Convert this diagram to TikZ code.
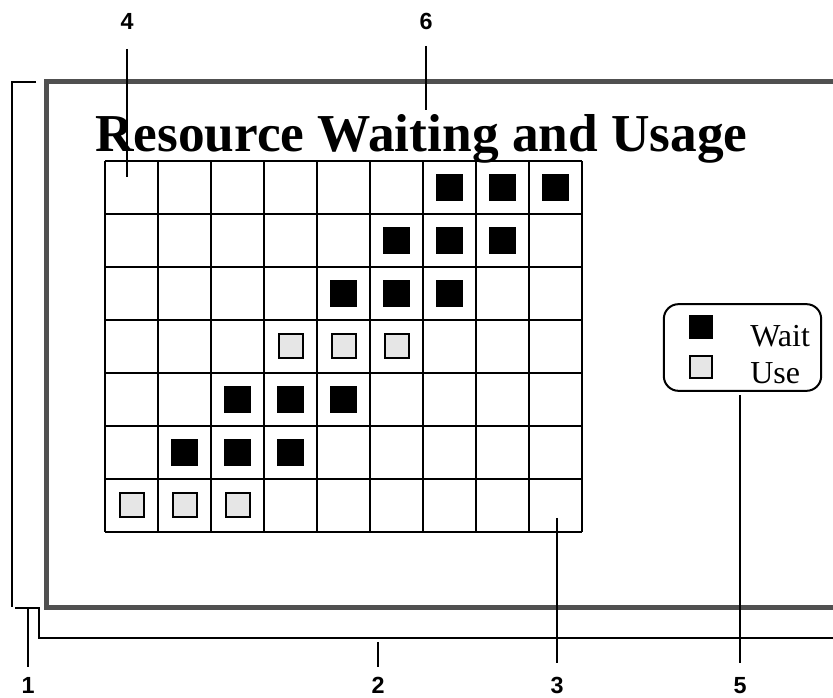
\documentclass[tikz,border=0pt]{standalone}
\usepackage{fontspec}
\setmainfont{Liberation Serif}
\setsansfont{Liberation Sans}
\usetikzlibrary{positioning}
\definecolor{frameGray}{RGB}{80,80,80}
\definecolor{useGray}{RGB}{230,230,230}

\begin{document}
\begin{tikzpicture}[
  x=0.75pt,y=-0.75pt,
  frame/.style={draw=frameGray,line width=3.75pt},
  bracket/.style={draw,line width=1.5pt},
  pointer/.style={draw,line width=1.5pt},
  gridline/.style={draw,line width=1.6pt},
  callout/.style={font=\sffamily\bfseries\fontsize{17.5}{17.5}\selectfont,anchor=base,inner sep=0pt},
  waitbox/.style={fill=black,minimum size=20.25pt,inner sep=0pt},
  usebox/.style={fill=useGray,draw,line width=1.5pt,minimum size=18pt,inner sep=0pt},
  legendbox/.style={draw,rounded corners=11pt,line width=1.5pt,minimum width=118pt,minimum height=65pt},
  legendtext/.style={font=\fontsize{24}{24}\selectfont,anchor=base west,inner sep=0pt}
]
  \useasboundingbox (0,0) rectangle (833,698);

  % outer frame and brackets
  \draw[frame] (833,82) -| (46,608) -- (833,608);
  \draw[bracket] (36,82) -- (12,82) -- (12,607);
  \draw[bracket] (15,608) -- (39,608) -- (39,638) -- (833,638);

  \node[anchor=base west,inner sep=0pt,font=\bfseries\fontsize{40}{40}\selectfont] (title)
    at (95,152) {Resource Waiting and Usage};

  % grid
  \foreach \c in {0,...,9}
    \draw[gridline] ({105+53*\c},161) -- ({105+53*\c},532);
  \foreach \r in {0,...,7}
    \draw[gridline] (105,{161+53*\r}) -- (582,{161+53*\r});

  \foreach \c/\r in {6/0,7/0,8/0,5/1,6/1,7/1,4/2,5/2,6/2,2/4,3/4,4/4,1/5,2/5,3/5}
    \node[waitbox] (w-\c-\r) at ({131.5+53*\c},{187.5+53*\r}) {};
  \foreach \c/\r in {3/3,4/3,5/3,0/6,1/6,2/6}
    \node[usebox] (u-\c-\r) at ({131.5+53*\c},{187.5+53*\r}) {};

  % legend
  \node[legendbox] (legend) at (742.5,347.5) {};
  \node[waitbox,minimum size=18pt] (keywait) at (701,327) {};
  \node[usebox,minimum size=16.5pt] (keyuse) at (701,367) {};
  \node[legendtext] (wait) at (750,347) {Wait};
  \node[legendtext] (use) at (750,384) {Use};

  % callouts
  \foreach \n/\x/\ya/\yb in {1/28/608/667,2/378/642/667,3/557/518/663,5/740/395/663}{
    \coordinate (top\n) at (\x,\ya);
    \coordinate (tip\n) at (\x,\yb);
    \draw[pointer] (top\n) -- (tip\n);
    \node[callout] (num\n) at (\x,694) {\n};
  }
  \foreach \n/\x/\ya/\yb in {4/127/49/177,6/426/46/110}{
    \coordinate (top\n) at (\x,\ya);
    \coordinate (tip\n) at (\x,\yb);
    \draw[pointer] (top\n) -- (tip\n);
    \node[callout] (num\n) at (\x,30) {\n};
  }
\end{tikzpicture}
\end{document}
